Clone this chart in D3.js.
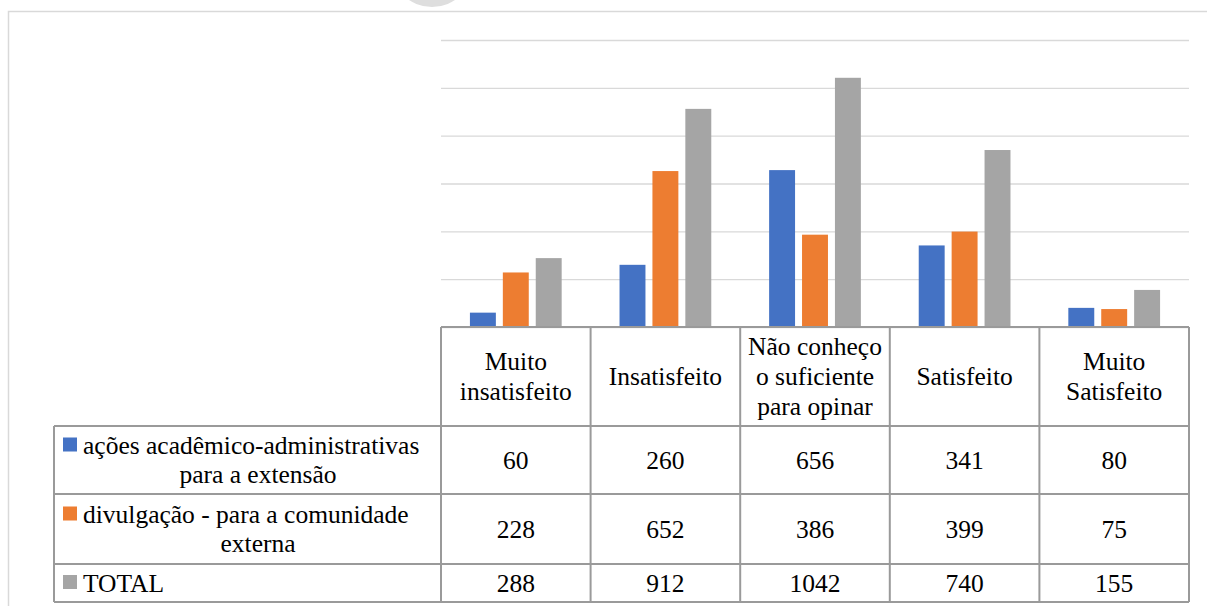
<!DOCTYPE html>
<html>
<head>
<meta charset="utf-8">
<script src="https://cdn.jsdelivr.net/npm/d3@7"></script>
<style>
html, body { margin: 0; padding: 0; background: #fff; }
svg { display: block; }
</style>
</head>
<body>
<svg id="chart" width="1207" height="606"></svg>
<script>
const categories = ["Muito insatisfeito", "Insatisfeito", "Não conheço o suficiente para opinar", "Satisfeito", "Muito Satisfeito"];
const categoryLines = [["Muito", "insatisfeito"], ["Insatisfeito"], ["Não conheço", "o suficiente", "para opinar"], ["Satisfeito"], ["Muito", "Satisfeito"]];
const seriesNames = ["ações acadêmico-administrativas para a extensão", "divulgação - para a comunidade externa", "TOTAL"];
const seriesLines = [["ações acadêmico-administrativas", "para a extensão"], ["divulgação - para a comunidade", "externa"], ["TOTAL"]];
const acoes = [60, 260, 656, 341, 80];
const divulgacao = [228, 652, 386, 399, 75];
const total = [288, 912, 1042, 740, 155];
const yTicks = [0, 200, 400, 600, 800, 1000, 1200];
const colors = ["#4472C4", "#ED7D31", "#A5A5A5"];

const seriesValues = [acoes, divulgacao, total];

const svg = d3.select("#chart");

svg.append("circle").attr("cx", 432).attr("cy", -34).attr("r", 41).attr("fill", "#dedede");
svg.append("path").attr("d", "M8.5,606 V11.5 H1207").attr("fill", "none").attr("stroke", "#d9d9d9").attr("stroke-width", 1.5);

const x0 = d3.scaleBand().domain(categories).range([441, 1189]).paddingInner(0).paddingOuter(0);
const x1 = d3.scaleBand().domain(d3.range(seriesNames.length)).range([0, x0.bandwidth()]).paddingInner(0.212).paddingOuter(0.879);
const y = d3.scaleLinear().domain([0, 1200]).range([327, 40]);

const gridAxis = d3.axisLeft(y).tickValues(yTicks).tickSize(-(1189 - 441)).tickFormat("");
const g = svg.append("g").attr("transform", "translate(441,0)").call(gridAxis);
g.select(".domain").remove();
g.selectAll(".tick line").attr("stroke", "#d9d9d9").attr("stroke-width", 1.3);

const groups = svg.append("g").selectAll("g").data(categories).join("g")
  .attr("transform", d => `translate(${x0(d)},0)`);
groups.selectAll("rect").data((d, i) => seriesValues.map((s, k) => ({k, v: s[i]}))).join("rect")
  .attr("x", d => x1(d.k))
  .attr("width", x1.bandwidth())
  .attr("y", d => y(d.v))
  .attr("height", d => y(0) - y(d.v))
  .attr("fill", d => colors[d.k]);

const fs = 25.5;
const lineColor = "#9a9a9a";
const rowTops = [327, 426, 494, 564];
const rowBottoms = [426, 494, 564, 602];
const tbl = svg.append("g");
const colEdges = categories.map(c => x0(c)).concat([x0(categories[categories.length - 1]) + x0.bandwidth()]);

tbl.append("line").attr("x1", 441).attr("x2", 1189).attr("y1", 327).attr("y2", 327).attr("stroke", lineColor).attr("stroke-width", 2);
[426, 494, 564, 602].forEach(yy => {
  tbl.append("line").attr("x1", 54).attr("x2", 1189).attr("y1", yy).attr("y2", yy).attr("stroke", lineColor).attr("stroke-width", 2);
});
colEdges.forEach(xx => {
  tbl.append("line").attr("x1", xx).attr("x2", xx).attr("y1", 327).attr("y2", 602).attr("stroke", lineColor).attr("stroke-width", 2);
});
tbl.append("line").attr("x1", 54).attr("x2", 54).attr("y1", 426).attr("y2", 602).attr("stroke", lineColor).attr("stroke-width", 2);

function txt(xx, yy, s, anchor) {
  return tbl.append("text").attr("x", xx).attr("y", yy).attr("dy", "0.35em")
    .attr("text-anchor", anchor)
    .style("font-family", "\"Liberation Serif\", serif", "important")
    .style("font-size", fs + "px", "important")
    .attr("fill", "#000").text(s);
}

categories.forEach((c, i) => {
  const lines = categoryLines[i];
  const cx = x0(c) + x0.bandwidth() / 2;
  const cy = (rowTops[0] + rowBottoms[0]) / 2;
  const lh = 30;
  lines.forEach((ln, j) => txt(cx, cy + (j - (lines.length - 1) / 2) * lh, ln, "middle"));
});

seriesNames.forEach((s, k) => {
  const top = rowTops[k + 1], bot = rowBottoms[k + 1];
  const cy = (top + bot) / 2;
  const lines = seriesLines[k];
  const lh = 29;
  lines.forEach((ln, j) => {
    const ly = cy + (j - (lines.length - 1) / 2) * lh;
    if (j === 0) {
      tbl.append("rect").attr("x", 63).attr("y", ly - 8).attr("width", 14).attr("height", 14).attr("fill", colors[k]);
      txt(83, ly, ln, "start");
    } else {
      txt(258, ly, ln, "middle");
    }
  });
  categories.forEach((c, i) => txt(x0(c) + x0.bandwidth() / 2, cy, seriesValues[k][i], "middle"));
});
</script>
</body>
</html>
